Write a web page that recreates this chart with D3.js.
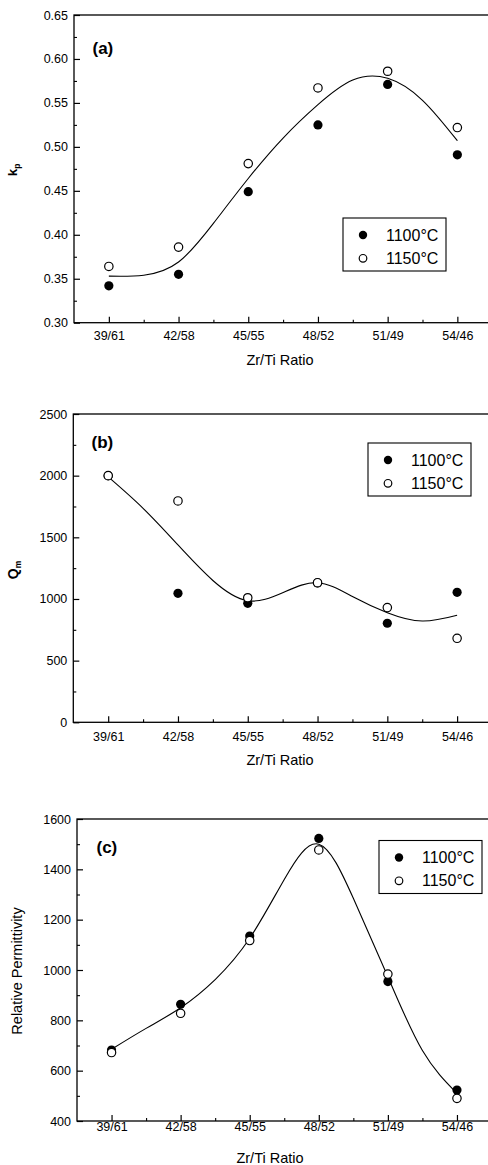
<!DOCTYPE html>
<html><head><meta charset="utf-8">
<script src="https://cdn.jsdelivr.net/npm/d3@7/dist/d3.min.js"></script>
<style>
html,body{margin:0;padding:0;background:#fff;}
svg{display:block;font-family:"Liberation Sans",Arial,Helvetica,sans-serif;}
</style></head>
<body>
<script>
// ---------- data ----------
const categories = ["39/61","42/58","45/55","48/52","51/49","54/46"];
const seriesNames = ["1100°C","1150°C"];

// (a) kp
const kpTicks = [0.30,0.35,0.40,0.45,0.50,0.55,0.60,0.65];
const kp1100 = [0.342,0.355,0.449,0.525,0.571,0.491];
const kp1150 = [0.364,0.386,0.481,0.567,0.586,0.522];
const kpFitX = [0,0.5,1,1.5,2,2.5,3,3.5,4,4.5,5];
const kpFitY = [0.353,0.354,0.369,0.413,0.464,0.510,0.548,0.576,0.578,0.553,0.507];

// (b) Qm
const qmTicks = [0,500,1000,1500,2000,2500];
const qm1100 = [2000,1046,965,1130,803,1054];
const qm1150 = [2000,1795,1010,1132,930,681];
const qmFitX = [0,0.5,1,1.5,2,2.5,3,3.5,4,4.5,5];
const qmFitY = [1990,1735,1438,1150,986,1050,1132,1020,889,821,868];

// (c) relative permittivity
const pmTicks = [400,600,800,1000,1200,1400,1600];
const pm1100 = [682,864,1135,1523,954,523];
const pm1150 = [672,828,1117,1477,984,490];
const pmFitX = [0,0.5,1,1.5,2,2.5,3,3.5,4,4.5,5];
const pmFitY = [685,768,850,962,1126,1360,1500,1285,973,680,510];

// ---------- drawing ----------
const W = 488, H = 1165;
const svg = d3.select("body").append("svg").attr("width", W).attr("height", H);

function minorTicks(ticks) {
  const out = [];
  for (let i = 0; i < ticks.length - 1; i++) out.push((ticks[i] + ticks[i+1]) / 2);
  return out;
}

function panel(c) {
  const g = svg.append("g");
  const x = d3.scaleLinear().domain([-0.5, 5.5]).range([c.left, c.right]);
  const y = d3.scaleLinear().domain([c.yTicks[0], c.yTicks[c.yTicks.length-1]]).range([c.bottom, c.top]);

  // frame
  g.append("rect").attr("x", c.left).attr("y", c.top)
    .attr("width", c.right - c.left).attr("height", c.bottom - c.top)
    .attr("fill", "none").attr("stroke", "#000").attr("stroke-width", 1.3);

  // y axis
  const ya = g.append("g").attr("transform", `translate(${c.left},0)`)
    .call(d3.axisLeft(y).tickValues(c.yTicks).tickFormat(c.fmt).tickSize(-6).tickPadding(6));
  ya.select(".domain").remove();
  ya.selectAll("text").attr("font-size", 12.5).attr("fill", "#000").attr("font-family", null);
  ya.selectAll("line").attr("stroke-width", 1.2);
  const ym = g.append("g").attr("transform", `translate(${c.left},0)`)
    .call(d3.axisLeft(y).tickValues(minorTicks(c.yTicks)).tickFormat("").tickSize(-3));
  ym.select(".domain").remove();
  ym.selectAll("line").attr("stroke-width", 1.1);

  // x axis
  const xa = g.append("g").attr("transform", `translate(0,${c.bottom})`)
    .call(d3.axisBottom(x).tickValues(d3.range(categories.length)).tickFormat(i => categories[i]).tickSize(-6).tickPadding(c.xPad));
  xa.select(".domain").remove();
  xa.selectAll("text").attr("font-size", 12.5).attr("fill", "#000").attr("font-family", null);
  xa.selectAll("line").attr("stroke-width", 1.2);
  const xm = g.append("g").attr("transform", `translate(0,${c.bottom})`)
    .call(d3.axisBottom(x).tickValues(d3.range(categories.length - 1).map(i => i + 0.5)).tickFormat("").tickSize(-3));
  xm.select(".domain").remove();
  xm.selectAll("line").attr("stroke-width", 1.1);

  // axis titles
  g.append("text").attr("x", c.xTitleX).attr("y", c.xTitleY).attr("text-anchor", "middle")
    .attr("font-size", 14.5).text("Zr/Ti Ratio");
  const yt = g.append("text").attr("transform", `translate(${c.yTitleX},${c.yTitleY}) rotate(-90)`)
    .attr("text-anchor", "middle").attr("font-size", c.yTitleSize).attr("font-weight", c.yTitleWeight);
  yt.append("tspan").text(c.yTitle);
  if (c.yTitleSub) yt.append("tspan").attr("font-size", 8.5).attr("dy", 3).text(c.yTitleSub);

  // panel label
  g.append("text").attr("x", c.labX).attr("y", c.labY).attr("font-size", 17)
    .attr("font-weight", "bold").text(c.label);

  // fit curve
  const line = d3.line().x(d => x(d[0])).y(d => y(d[1])).curve(d3.curveNatural);
  g.append("path").datum(d3.zip(c.fitX, c.fitY)).attr("d", line)
    .attr("fill", "none").attr("stroke", "#000").attr("stroke-width", 1.1);

  // markers
  g.selectAll(".f").data(c.s1100).join("circle")
    .attr("cx", (d, i) => x(i)).attr("cy", d => y(d)).attr("r", 4.6).attr("fill", "#000");
  g.selectAll(".o").data(c.s1150).join("circle")
    .attr("cx", (d, i) => x(i)).attr("cy", d => y(d)).attr("r", 4.2)
    .attr("fill", "#fff").attr("stroke", "#000").attr("stroke-width", 1.2);

  // legend
  const lg = g.append("g").attr("transform", `translate(${c.legX},${c.legY})`);
  lg.append("rect").attr("width", 103).attr("height", 53).attr("fill", "#fff")
    .attr("stroke", "#000").attr("stroke-width", 1.1);
  seriesNames.forEach((name, i) => {
    const cy = 17 + i * 23.3;
    if (i === 0) lg.append("circle").attr("cx", 20).attr("cy", cy).attr("r", 4.2).attr("fill", "#000");
    else lg.append("circle").attr("cx", 20).attr("cy", cy).attr("r", 3.8).attr("fill", "#fff")
      .attr("stroke", "#000").attr("stroke-width", 1.2);
    lg.append("text").attr("x", 43).attr("y", cy + 5.5).attr("font-size", 16).text(name);
  });
}

panel({left:74, right:492.2, top:15, bottom:322.7, yTicks:kpTicks, fmt:d3.format(".2f"),
  s1100:kp1100, s1150:kp1150, fitX:kpFitX, fitY:kpFitY, xPad:8.8,
  xTitleX:280, xTitleY:365, yTitle:"k", yTitleSub:"p", yTitleX:16.5, yTitleY:170, yTitleSize:13.5, yTitleWeight:"bold",
  label:"(a)", labX:92.5, labY:53.5, legX:343, legY:218});

panel({left:73.3, right:492, top:414, bottom:722.3, yTicks:qmTicks, fmt:d3.format("d"),
  s1100:qm1100, s1150:qm1150, fitX:qmFitX, fitY:qmFitY, xPad:9.9,
  xTitleX:280, xTitleY:765, yTitle:"Q", yTitleSub:"m", yTitleX:17.5, yTitleY:570, yTitleSize:14, yTitleWeight:"bold",
  label:"(b)", labX:91.5, labY:448, legX:368, legY:443});

panel({left:77, right:491.5, top:819, bottom:1121, yTicks:pmTicks, fmt:d3.format("d"),
  s1100:pm1100, s1150:pm1150, fitX:pmFitX, fitY:pmFitY, xPad:1.5,
  xTitleX:270, xTitleY:1163, yTitle:"Relative Permittivity", yTitleX:22, yTitleY:971, yTitleSize:14.5, yTitleWeight:"normal",
  label:"(c)", labX:96.5, labY:852.5, legX:379, legY:840.5});
</script>
</body></html>
